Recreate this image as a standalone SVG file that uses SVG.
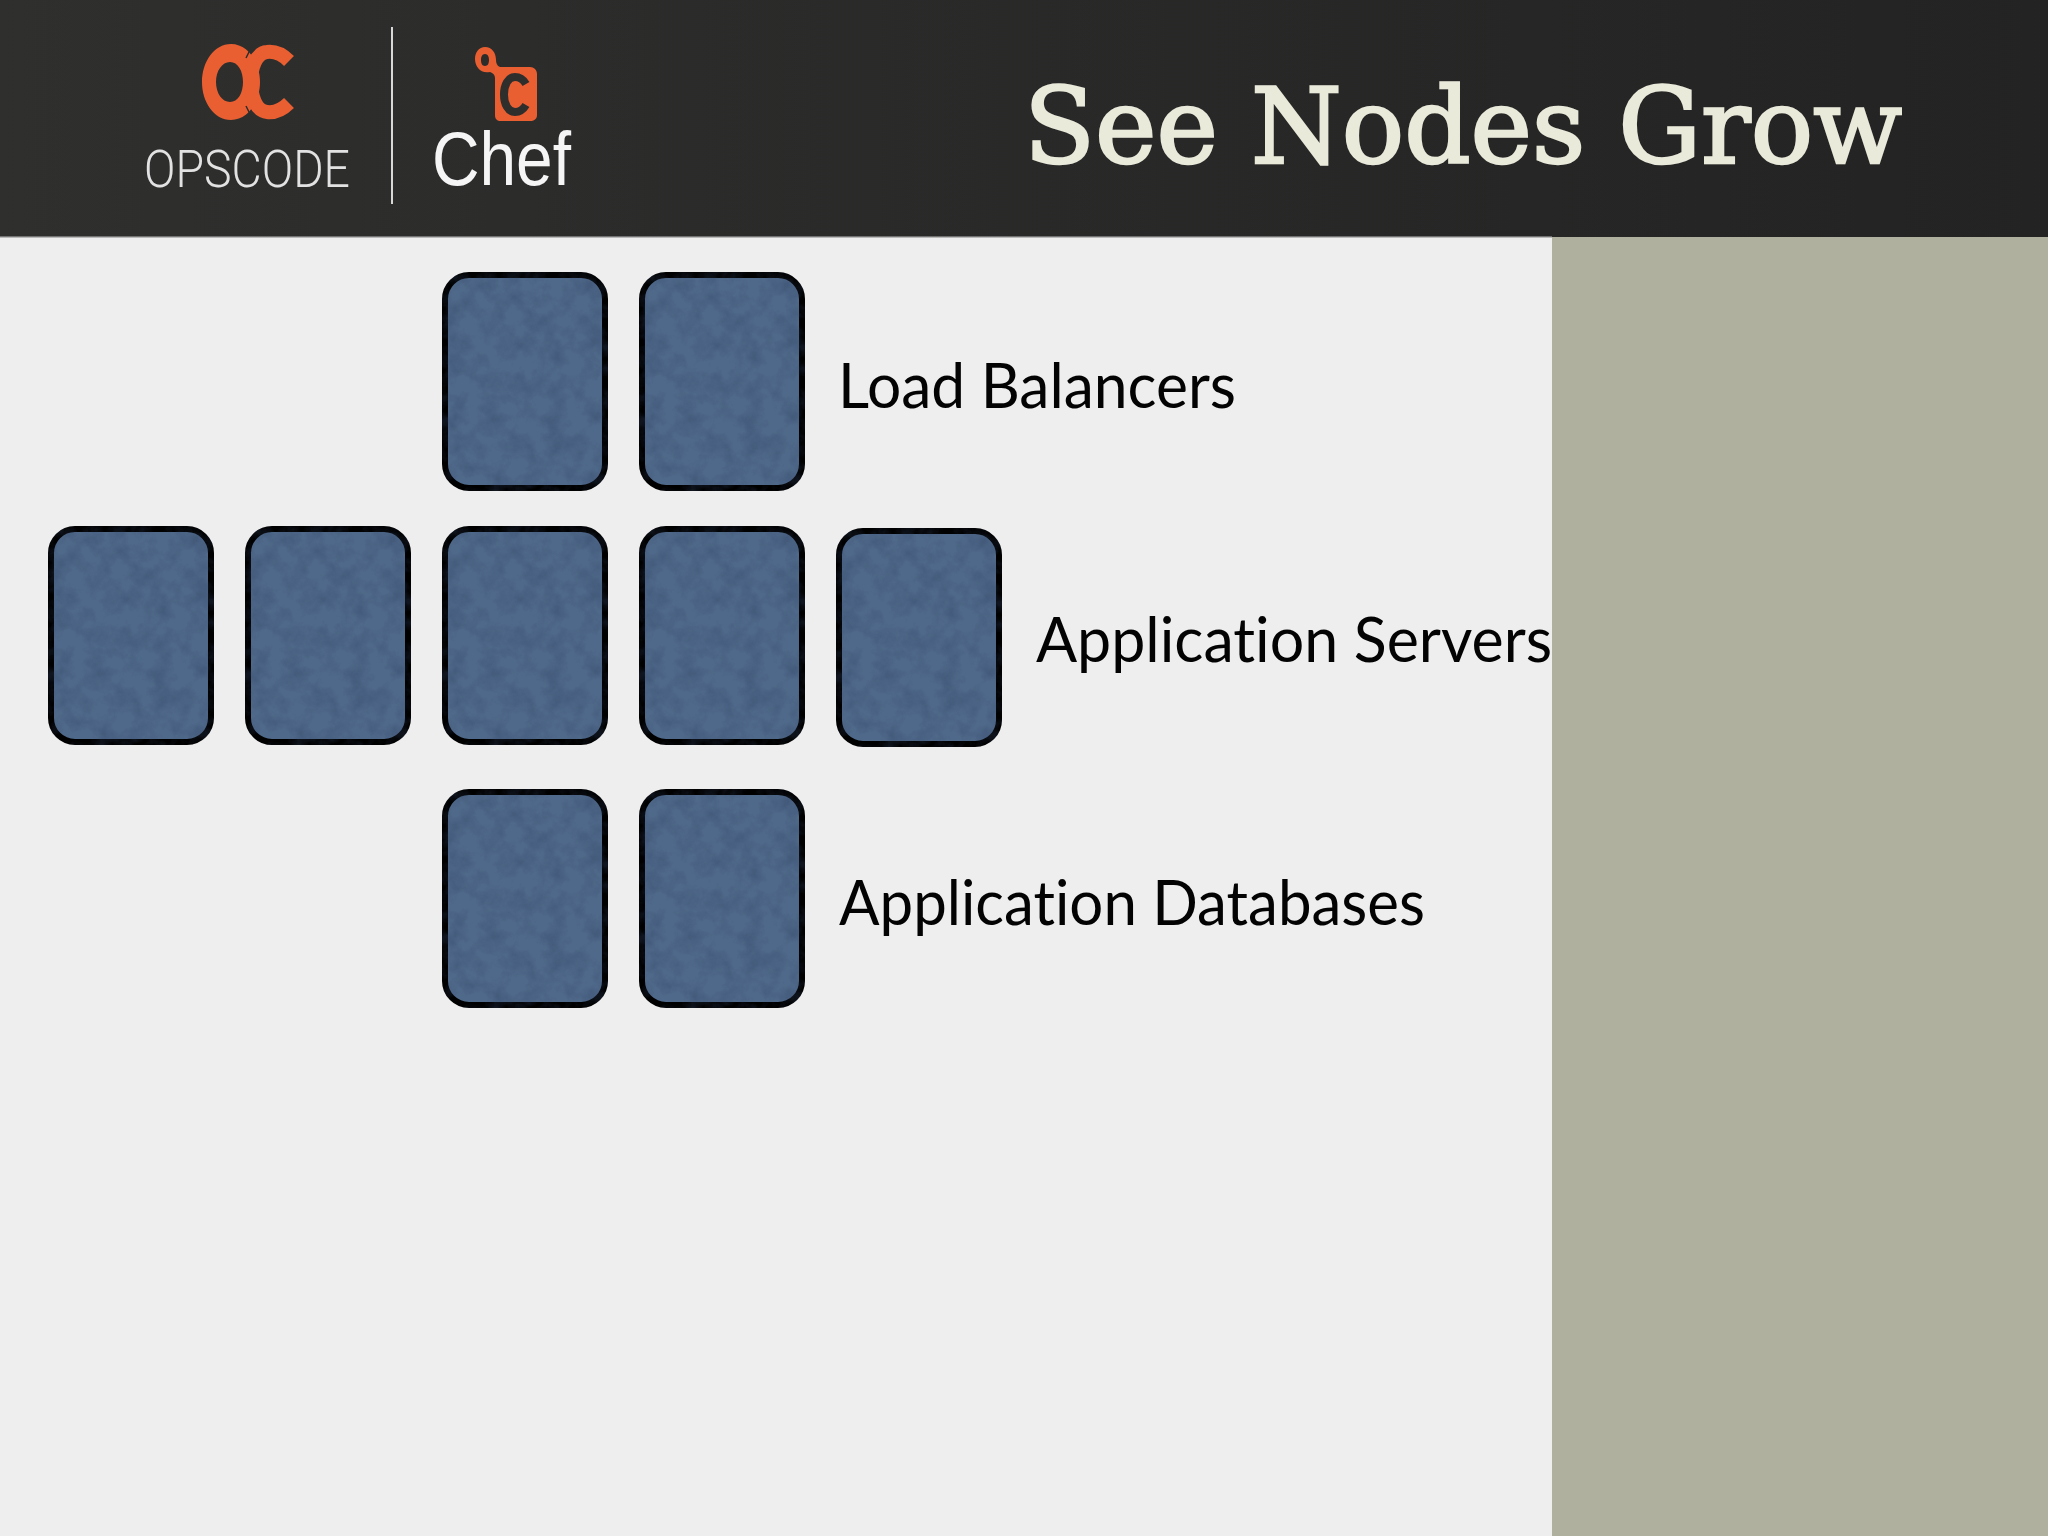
<svg xmlns="http://www.w3.org/2000/svg" width="2048" height="1536" viewBox="0 0 2048 1536">
<style>
.node{fill:#4f698a;stroke:#000;stroke-width:6;filter:url(#paper)}
.label{font-family:"Lato","Open Sans",sans-serif;font-size:62px;fill:#030303;font-variant-ligatures:none}
.org{fill:#e95f32}
</style>
<defs>
<linearGradient id="hdr" x1="0" x2="1" y1="0" y2="0"><stop offset="0" stop-color="#2f2f2e"/><stop offset="1" stop-color="#242323"/></linearGradient>
<filter id="paper" x="-5%" y="-5%" width="110%" height="110%" color-interpolation-filters="sRGB">
<feTurbulence type="fractalNoise" baseFrequency="0.05" numOctaves="5" seed="7" result="n"/>
<feColorMatrix in="n" type="matrix" values="0 0 0 0 0.2  0 0 0 0 0.27  0 0 0 0 0.4  0.9 0 0 0 -0.36" result="d"/>
<feComposite in="d" in2="SourceAlpha" operator="in" result="t"/>
<feMerge><feMergeNode in="SourceGraphic"/><feMergeNode in="t"/></feMerge>
</filter>
<rect id="card" width="160" height="213" rx="24" ry="24"/>
</defs>
<rect id="background" width="2048" height="1536" fill="#efeeef"/>
<rect id="side-panel" x="1552" y="237" width="496" height="1299" fill="#afb09d"/>
<g id="header">
<rect width="2048" height="237" fill="url(#hdr)"/>
<rect x="0" y="236.500" width="1552" height="1.500" fill="#b9b9b9"/>
<g id="opscode-logo">
<path class="org" fill-rule="evenodd" d="M231 44C248 44 260 62 260 82S248 120 231 120S202 102 202 82S214 44 231 44ZM230 62C222 62 216 71 216 82S222 102 230 102S243 93 243 82S238 62 230 62Z"/>
<path d="M289 61C282 54 275 51 267 52C256 53 251 68 251 82C251 96 256 111 267 112C275 113 282 110 289 103" fill="none" stroke="#e95f32" stroke-width="14"/>
<path d="M252 46L246 58M252 118L246 106" stroke="#2e2e2d" stroke-width="1.500" fill="none"/>
<text x="144" y="187" textLength="206" lengthAdjust="spacingAndGlyphs" font-family="Roboto,sans-serif" font-weight="300" font-size="52" fill="#e2e2e2">OPSCODE</text>
</g>
<rect id="divider" x="391" y="27" width="2" height="177" fill="#d8d8d8"/>
<g id="chef-logo">
<path class="org" fill-rule="evenodd" d="M485 47C492 47 496 53 496 60C496 63 497 66 500 67L530 67C534 67 537 70 537 74L537 115C537 119 534 121 530 121L501 121C497 121 495 119 495 115L495 78C495 75 493 73 490 72C481 74 475 67 475 59C475 52 479 47 485 47ZM485 54C482 54 481 57 481 60C481 63 482 66 485 66C488 66 489 63 489 60C489 57 488 54 485 54Z"/>
<path d="M526 84C523 79 519 77 515 77C508 77 504 85 504 94.500C504 104 508 112 515 112C519 112 523 110 526 105" fill="none" stroke="#2e2e2d" stroke-width="8"/>
<text x="432" y="185" textLength="139" lengthAdjust="spacingAndGlyphs" font-family="'Liberation Sans',sans-serif" font-size="76" fill="#f5f5f5">Chef</text>
</g>
<text id="title" x="1024" y="163" textLength="878" lengthAdjust="spacingAndGlyphs" font-family="'DejaVu Serif',serif" font-size="104" fill="#eaeadb" stroke="#eaeadb" stroke-width="2.500">See Nodes Grow</text>
</g>
<g id="node-lb-1"><use href="#card" class="node" x="445" y="275"/></g>
<g id="node-lb-2"><use href="#card" class="node" x="642" y="275"/></g>
<g id="node-app-1"><use href="#card" class="node" x="51" y="529"/></g>
<g id="node-app-2"><use href="#card" class="node" x="248" y="529"/></g>
<g id="node-app-3"><use href="#card" class="node" x="445" y="529"/></g>
<g id="node-app-4"><use href="#card" class="node" x="642" y="529"/></g>
<g id="node-app-5"><use href="#card" class="node" x="839" y="531"/></g>
<g id="node-db-1"><use href="#card" class="node" x="445" y="792"/></g>
<g id="node-db-2"><use href="#card" class="node" x="642" y="792"/></g>
<text id="label-lb" class="label" x="838" y="408" textLength="398" lengthAdjust="spacingAndGlyphs">Load Balancers</text>
<text id="label-app" class="label" x="1036" y="662" textLength="516" lengthAdjust="spacingAndGlyphs">Application Servers</text>
<text id="label-db" class="label" x="839" y="925" textLength="586" lengthAdjust="spacingAndGlyphs">Application Databases</text>
</svg>
